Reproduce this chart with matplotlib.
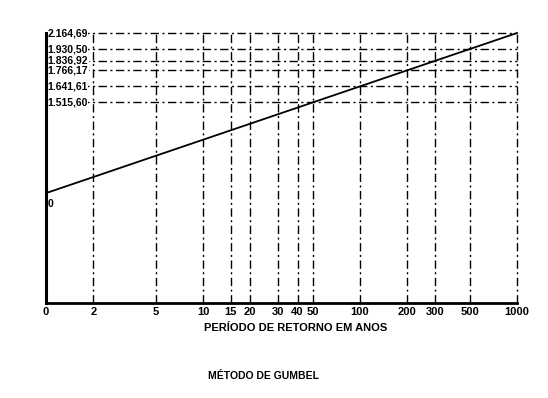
import matplotlib
matplotlib.use("Agg")
import matplotlib.pyplot as plt
import numpy as np

# Return periods (years) shown on the x axis; "0" label sits at T=1
periods = [1, 2, 5, 10, 15, 20, 30, 40, 50, 100, 200, 300, 500, 1000]
period_labels = ["0", "2", "5", "10", "15", "20", "30", "40", "50", "100", "200", "300", "500", "1000"]
grid_periods = [2, 5, 10, 15, 20, 30, 40, 50, 100, 200, 300, 500, 1000]

# Gumbel straight line: relative height at T=1 and T=1000 (axes fraction)
line_T = [1, 1000]
line_h = [0.407, 1.0]

# Annotated precipitation values and the return period where they are read
value_periods = [1000, 500, 300, 200, 100, 50]
value_labels = ["2.164,69", "1.930,50", "1.836,92", "1.766,17", "1.641,61", "1.515,60"]
origin_label = "0"

font = ['Liberation Sans Narrow', 'Liberation Sans', 'DejaVu Sans']

def line_at(T):
    lt = np.log10(line_T)
    return np.interp(np.log10(T), lt, line_h)

fig = plt.figure(figsize=(5.48, 3.98), dpi=100)
ax = fig.add_axes([46/548, 95/398, 471/548, 270/398])
ax.set_xscale('log')
ax.set_xlim(1, 1000)
ax.set_ylim(0, 1)

dash = (0, (6, 2.5, 1.5, 2.5))
for T in grid_periods:
    ax.axvline(T, color='black', lw=1.0, ls=dash, zorder=1, clip_on=False)
for T in value_periods:
    ax.axhline(line_at(T), color='black', lw=1.0, ls=dash, zorder=1, clip_on=False)

ax.plot(line_T, line_h, color='black', lw=1.3, zorder=3, clip_on=False)

for T, lab in zip(value_periods, value_labels):
    ax.text(1.025, line_at(T), lab, fontsize=7.5, fontweight='bold', family=font,
            va='center', ha='left', zorder=4,
            bbox=dict(facecolor='white', edgecolor='none', pad=0.3))
ax.text(1.025, line_at(1) - 0.02, origin_label, fontsize=7.5, fontweight='bold',
        family=font, va='top', ha='left', zorder=4)

ax.set_xticks(periods)
ax.set_xticklabels(period_labels, fontsize=8, fontweight='bold', family=font)
ax.xaxis.set_minor_locator(matplotlib.ticker.NullLocator())
ax.tick_params(axis='x', length=0, pad=3)
ax.set_yticks([])

for s in ['top', 'right']:
    ax.spines[s].set_visible(False)
ax.spines['left'].set_linewidth(2.2)
ax.spines['bottom'].set_linewidth(2.0)
ax.spines['left'].set_zorder(6)
ax.spines['bottom'].set_zorder(6)

ax.set_xlabel("PERÍODO DE RETORNO EM ANOS", fontsize=8, fontweight='bold',
              family=font, labelpad=6)
ax.xaxis.set_label_coords(0.53, -0.075)

fig.text(264/548, 1 - 376/398, "MÉTODO DE GUMBEL", fontsize=7.5, fontweight='bold',
         family=font, ha='center', va='center')

fig.savefig("out.png", dpi=100)
